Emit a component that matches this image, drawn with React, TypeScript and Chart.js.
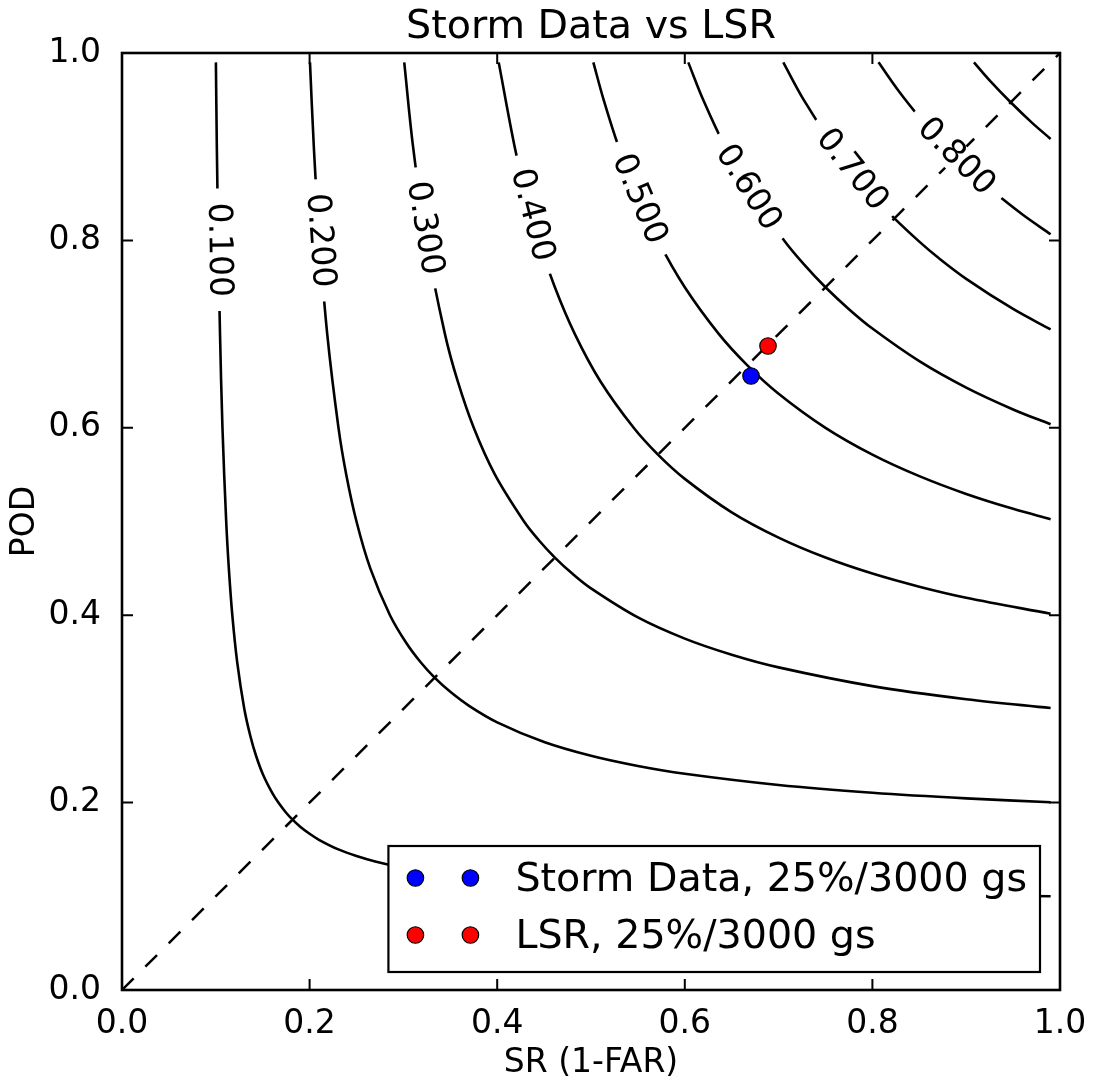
import { useEffect, useRef } from "react";
import { Chart, registerables } from "chart.js";

Chart.register(...registerables);

// ---------- text ----------
const chartTitle = "Storm Data vs LSR";
const xAxisTitle = "SR (1-FAR)";
const yAxisTitle = "POD";
const tickValues = [0, 0.2, 0.4, 0.6, 0.8, 1.0];

// ---------- CSI contour lines, [SR, POD] pairs ----------
const csi010 = [
  [0.1001, 0.99], [0.1011, 0.9], [0.1026, 0.8], [0.1045, 0.7], [0.1071, 0.6], [0.1111, 0.5],
  [0.1139, 0.45], [0.1176, 0.4], [0.1228, 0.35], [0.1304, 0.3], [0.1371, 0.27], [0.1429, 0.25],
  [0.1503, 0.23], [0.1603, 0.21], [0.1667, 0.2], [0.1743, 0.19], [0.1818, 0.1818], [0.19, 0.1743],
  [0.2, 0.1667], [0.21, 0.1603], [0.23, 0.1503], [0.25, 0.1429], [0.27, 0.1371], [0.3, 0.1304],
  [0.35, 0.1228], [0.4, 0.1176], [0.45, 0.1139], [0.5, 0.1111], [0.6, 0.1071], [0.7, 0.1045],
  [0.8, 0.1026], [0.9, 0.1011], [0.99, 0.1001],
];
const csi020 = [
  [0.2004, 0.99], [0.2045, 0.9], [0.2105, 0.8], [0.2188, 0.7], [0.2308, 0.6], [0.2391, 0.55],
  [0.25, 0.5], [0.2647, 0.45], [0.2857, 0.4], [0.3033, 0.37], [0.3182, 0.35], [0.3333, 0.3333],
  [0.35, 0.3182], [0.37, 0.3033], [0.4, 0.2857], [0.45, 0.2647], [0.5, 0.25], [0.55, 0.2391],
  [0.6, 0.2308], [0.7, 0.2188], [0.8, 0.2105], [0.9, 0.2045], [0.99, 0.2004],
];
const csi030 = [
  [0.3009, 0.99], [0.3103, 0.9], [0.3243, 0.8], [0.3443, 0.7], [0.3578, 0.65], [0.375, 0.6],
  [0.3976, 0.55], [0.4286, 0.5], [0.4444, 0.48], [0.4615, 0.4615], [0.48, 0.4444], [0.5, 0.4286],
  [0.55, 0.3976], [0.6, 0.375], [0.65, 0.3578], [0.7, 0.3443], [0.8, 0.3243], [0.9, 0.3103],
  [0.99, 0.3009],
];
const csi040 = [
  [0.4016, 0.99], [0.4186, 0.9], [0.4304, 0.85], [0.4444, 0.8], [0.4615, 0.75], [0.4828, 0.7],
  [0.5098, 0.65], [0.5455, 0.6], [0.5714, 0.5714], [0.6, 0.5455], [0.65, 0.5098], [0.7, 0.4828],
  [0.75, 0.4615], [0.8, 0.4444], [0.85, 0.4304], [0.9, 0.4186], [0.99, 0.4016],
];
const csi050 = [
  [0.5025, 0.99], [0.5135, 0.95], [0.5294, 0.9], [0.5484, 0.85], [0.5714, 0.8], [0.6, 0.75],
  [0.6364, 0.7], [0.6667, 0.6667], [0.7, 0.6364], [0.75, 0.6], [0.8, 0.5714], [0.85, 0.5484],
  [0.9, 0.5294], [0.95, 0.5135], [0.99, 0.5025],
];
const csi060 = [
  [0.6037, 0.99], [0.6196, 0.95], [0.6429, 0.9], [0.6711, 0.85], [0.7059, 0.8], [0.7266, 0.775],
  [0.75, 0.75], [0.775, 0.7266], [0.8, 0.7059], [0.85, 0.6711], [0.9, 0.6429], [0.95, 0.6196],
  [0.99, 0.6037],
];
const csi070 = [
  [0.705, 0.99], [0.7268, 0.95], [0.759, 0.9], [0.7817, 0.87], [0.7987, 0.85], [0.8235, 0.8235],
  [0.85, 0.7987], [0.87, 0.7817], [0.9, 0.759], [0.95, 0.7268], [0.99, 0.705],
];
const csi080 = [
  [0.8065, 0.99], [0.8276, 0.96], [0.8513, 0.93], [0.8687, 0.91], [0.8889, 0.8889], [0.91, 0.8687],
  [0.93, 0.8513], [0.96, 0.8276], [0.99, 0.8065],
];
const csi090 = [
  [0.9083, 0.99], [0.9257, 0.97], [0.9474, 0.9474], [0.97, 0.9257], [0.99, 0.9083],
];
const contourCurves = [csi010, csi020, csi030, csi040, csi050, csi060, csi070, csi080, csi090];

// contour labels (text and where they sit on their line)
const contourLabelText = ["0.100", "0.200", "0.300", "0.400", "0.500", "0.600", "0.700", "0.800"];
const contourLabelSR = [0.1027, 0.2105, 0.322, 0.4366, 0.551, 0.667, 0.7778, 0.8889];
const contourLabelPOD = [0.79, 0.8, 0.813, 0.827, 0.844, 0.856, 0.875, 0.8889];

// bias = 1 diagonal
const biasLine = [[0, 0], [1, 1]];

// ---------- plotted series ----------
const seriesNames = ["Storm Data, 25%/3000 gs", "LSR, 25%/3000 gs"];
const seriesColors = ["#0000ff", "#ff0000"];
const seriesSR = [0.6706, 0.6887];
const seriesPOD = [0.6553, 0.6873];

const FONT = "'DejaVu Sans', 'Liberation Sans', sans-serif";

const toPts = (arr: number[][]) => arr.map(([x, y]) => ({ x, y }));

const overlayPlugin = {
  id: "perfOverlay",
  afterDatasetsDraw(chart: any) {
    const { ctx, chartArea, scales } = chart;
    const xs = scales.x;
    const ys = scales.y;
    ctx.save();
    // contour labels with inline gaps
    ctx.font = `33px ${FONT}`;
    contourLabelText.forEach((txt, i) => {
      const curve = contourCurves[i];
      const px = xs.getPixelForValue(contourLabelSR[i]);
      const py = ys.getPixelForValue(contourLabelPOD[i]);
      let best = 0;
      let bd = Infinity;
      curve.forEach(([sx, sy], j) => {
        const dx = xs.getPixelForValue(sx) - px;
        const dy = ys.getPixelForValue(sy) - py;
        const d = dx * dx + dy * dy;
        if (d < bd) { bd = d; best = j; }
      });
      const a = curve[Math.max(0, best - 1)];
      const b = curve[Math.min(curve.length - 1, best + 1)];
      const ang = Math.atan2(
        ys.getPixelForValue(b[1]) - ys.getPixelForValue(a[1]),
        xs.getPixelForValue(b[0]) - xs.getPixelForValue(a[0])
      );
      const w = ctx.measureText(txt).width;
      ctx.save();
      ctx.translate(px, py);
      ctx.rotate(ang);
      ctx.fillStyle = "#ffffff";
      ctx.fillRect(-w / 2 - 14, -15, w + 28, 30);
      ctx.fillStyle = "#000000";
      ctx.textAlign = "center";
      ctx.textBaseline = "middle";
      ctx.fillText(txt, 0, 0);
      ctx.restore();
    });

    // frame
    const { left, right, top, bottom } = chartArea;
    ctx.strokeStyle = "#000000";
    ctx.lineWidth = 2.6;
    ctx.strokeRect(left, top, right - left, bottom - top);
    // inward ticks on all four sides
    const tl = 11;
    ctx.lineWidth = 2;
    ctx.beginPath();
    tickValues.forEach((v) => {
      const x = xs.getPixelForValue(v);
      ctx.moveTo(x, bottom);
      ctx.lineTo(x, bottom - tl);
      ctx.moveTo(x, top);
      ctx.lineTo(x, top + tl);
      const y = ys.getPixelForValue(v);
      ctx.moveTo(left, y);
      ctx.lineTo(left + tl, y);
      ctx.moveTo(right, y);
      ctx.lineTo(right - tl, y);
    });
    ctx.stroke();
    ctx.restore();
  },
  afterDraw(chart: any) {
    const { ctx, chartArea } = chart;
    ctx.save();
    // title
    ctx.font = `39.6px ${FONT}`;
    ctx.fillStyle = "#000000";
    ctx.textAlign = "center";
    ctx.textBaseline = "alphabetic";
    ctx.fillText(chartTitle, (chartArea.left + chartArea.right) / 2, 38);

    // legend
    const items = chart.data.datasets.filter((d: any) => d.inLegend);
    const fs = 39.6;
    ctx.font = `${fs}px ${FONT}`;
    let textW = 0;
    items.forEach((d: any) => { textW = Math.max(textW, ctx.measureText(d.label).width); });
    const padL = 27, handle = 55, gap = 45, padR = 13;
    const boxW = padL + handle + gap + textW + padR;
    const boxH = 126;
    const rowH = 57;
    const rightEdge = chartArea.right - 20;
    const bottomEdge = chartArea.bottom - 18;
    const lx = rightEdge - boxW;
    const ly = bottomEdge - boxH;
    ctx.fillStyle = "#ffffff";
    ctx.fillRect(lx, ly, boxW, boxH);
    ctx.strokeStyle = "#000000";
    ctx.lineWidth = 2.2;
    ctx.strokeRect(lx, ly, boxW, boxH);
    items.forEach((d: any, i: number) => {
      const ry = ly + 32 + i * rowH;
      [lx + padL, lx + padL + handle].forEach((mx) => {
        ctx.beginPath();
        ctx.arc(mx, ry, 8.25, 0, Math.PI * 2);
        ctx.fillStyle = d.backgroundColor;
        ctx.fill();
        ctx.lineWidth = 1.2;
        ctx.strokeStyle = "#000000";
        ctx.stroke();
      });
      ctx.fillStyle = "#000000";
      ctx.textAlign = "left";
      ctx.textBaseline = "alphabetic";
      ctx.fillText(d.label, lx + padL + handle + gap, ry + 13);
    });
    ctx.restore();
  },
};

export default function App() {
  const canvasRef = useRef<HTMLCanvasElement | null>(null);

  useEffect(() => {
    const canvas = canvasRef.current;
    if (!canvas) return;

    const contourSets = contourCurves.map((c, i) => ({
      label: `CSI ${i}`,
      data: toPts(c),
      showLine: true,
      borderColor: "#000000",
      borderWidth: 2.6,
      pointRadius: 0,
      tension: 0.35,
      fill: false,
      order: 2,
    }));

    const biasSet = {
      label: "bias",
      data: toPts(biasLine),
      showLine: true,
      borderColor: "#000000",
      borderWidth: 2.5,
      borderDash: [16.5, 16.5],
      pointRadius: 0,
      fill: false,
      order: 2,
    };

    const seriesSets = seriesNames.map((name, i) => ({
      label: name,
      inLegend: true,
      data: [{ x: seriesSR[i], y: seriesPOD[i] }],
      showLine: false,
      pointRadius: 8.25,
      pointBackgroundColor: seriesColors[i],
      backgroundColor: seriesColors[i],
      pointBorderColor: "#000000",
      pointBorderWidth: 1.2,
      order: 0,
    }));

    const tickFont = { family: FONT, size: 33 };

    const chart = new Chart(canvas, {
      type: "scatter",
      data: { datasets: [...seriesSets, biasSet, ...contourSets] as any },
      options: {
        responsive: false,
        animation: false,
        devicePixelRatio: 1,
        events: [],
        layout: { padding: { top: 53, right: 34, left: 0, bottom: 0 } },
        plugins: {
          legend: { display: false },
          title: { display: false },
          tooltip: { enabled: false },
        },
        scales: {
          x: {
            type: "linear",
            min: 0,
            max: 1,
            afterFit: (s: any) => { s.height = 99; },
            afterBuildTicks: (s: any) => { s.ticks = tickValues.map((v) => ({ value: v })); },
            grid: { display: false },
            border: { display: false },
            ticks: {
              font: tickFont,
              color: "#000000",
              padding: 7,
              maxRotation: 0,
              callback: (v: any) => Number(v).toFixed(1),
            },
            title: {
              display: true,
              text: xAxisTitle,
              font: { family: FONT, size: 33 },
              color: "#000000",
              padding: { top: 0, bottom: 6 },
            },
          },
          y: {
            type: "linear",
            min: 0,
            max: 1,
            afterFit: (s: any) => { s.width = 122; },
            afterBuildTicks: (s: any) => { s.ticks = tickValues.map((v) => ({ value: v })); },
            grid: { display: false },
            border: { display: false },
            ticks: {
              font: tickFont,
              color: "#000000",
              padding: 13,
              callback: (v: any) => Number(v).toFixed(1),
            },
            title: {
              display: true,
              text: yAxisTitle,
              font: { family: FONT, size: 33 },
              color: "#000000",
              padding: { top: 6, bottom: 0 },
            },
          },
        },
      } as any,
      plugins: [overlayPlugin],
    });

    return () => chart.destroy();
  }, []);

  return (
    <div style={{ position: "fixed", left: 0, top: 0, width: 1094, height: 1089, background: "#ffffff" }}>
      <canvas ref={canvasRef} width={1094} height={1089} style={{ display: "block" }} />
    </div>
  );
}
